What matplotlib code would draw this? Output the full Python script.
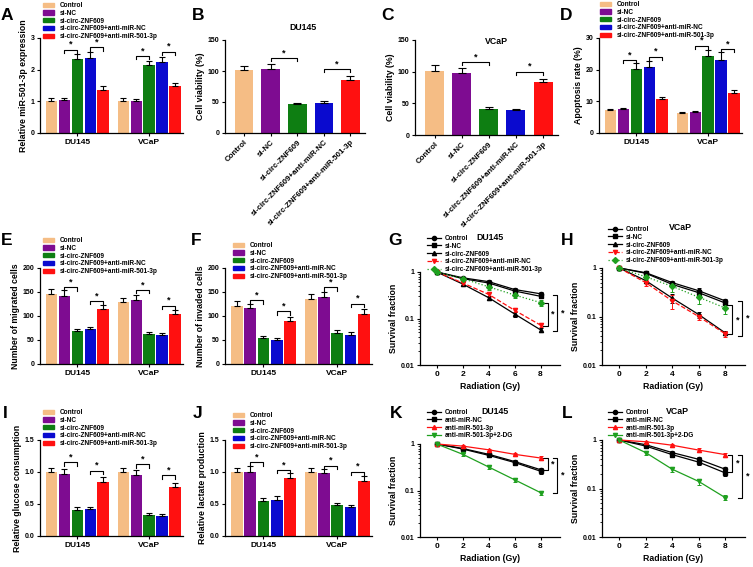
import matplotlib
matplotlib.use("Agg")
import matplotlib.pyplot as plt
from matplotlib.patches import Patch
from matplotlib.lines import Line2D

plt.rcParams["font.family"] = ["Liberation Sans", "DejaVu Sans"]
plt.rcParams["font.weight"] = "bold"
plt.rcParams["axes.labelweight"] = "bold"

W, H = 753, 567

groups = ["Control", "si-NC", "si-circ-ZNF609", "si-circ-ZNF609+anti-miR-NC", "si-circ-ZNF609+anti-miR-501-3p"]
bar_colors = ["#F5BD85", "#7E0C91", "#0E7E12", "#0A0ACF", "#FF1010"]
cells = ["DU145", "VCaP"]

# A: relative miR-501-3p expression
mir_du = [1.02, 1.04, 2.33, 2.38, 1.37]
mir_du_err = [0.07, 0.08, 0.17, 0.17, 0.10]
mir_vc = [1.02, 1.01, 2.14, 2.23, 1.48]
mir_vc_err = [0.08, 0.07, 0.13, 0.17, 0.10]

# B, C: cell viability
via_du = [101, 103, 46, 48, 86]
via_du_err = [7, 8, 3, 4, 6]
via_vc = [101, 98, 41, 39, 83]
via_vc_err = [9, 7, 3, 2, 6]

# D: apoptosis rate
apo_du = [7.2, 7.5, 20.1, 20.8, 10.6]
apo_du_err = [0.4, 0.4, 1.9, 1.8, 0.8]
apo_vc = [6.2, 6.7, 24.2, 23.2, 12.5]
apo_vc_err = [0.3, 0.4, 1.9, 2.3, 1.0]

# E: migrated cells
mig_du = [146, 142, 69, 72, 114]
mig_du_err = [10, 12, 4, 5, 8]
mig_vc = [130, 134, 63, 61, 105]
mig_vc_err = [8, 10, 4, 4, 8]

# F: invaded cells
inv_du = [121, 116, 54, 51, 90]
inv_du_err = [10, 9, 4, 4, 7]
inv_vc = [136, 139, 65, 61, 105]
inv_vc_err = [10, 11, 5, 5, 9]

# I: glucose consumption
glu_du = [1.00, 0.97, 0.40, 0.42, 0.85]
glu_du_err = [0.06, 0.08, 0.05, 0.04, 0.07]
glu_vc = [1.00, 0.95, 0.33, 0.31, 0.77]
glu_vc_err = [0.07, 0.08, 0.03, 0.03, 0.06]

# J: lactate production
lac_du = [1.00, 1.00, 0.55, 0.57, 0.90]
lac_du_err = [0.06, 0.10, 0.05, 0.05, 0.08]
lac_vc = [1.00, 0.98, 0.48, 0.45, 0.86]
lac_vc_err = [0.06, 0.07, 0.04, 0.03, 0.07]

# survival curves
dose = [0, 2, 4, 6, 8]

g_ctrl = [1.0, 0.75, 0.62, 0.42, 0.34]
g_sinc = [1.0, 0.72, 0.58, 0.39, 0.30]
g_circ = [1.0, 0.55, 0.28, 0.125, 0.057]
g_amnc = [1.0, 0.58, 0.33, 0.15, 0.072]
g_a501 = [1.0, 0.72, 0.48, 0.32, 0.22]
g_ctrl_err = [0.03, 0.05, 0.05, 0.04, 0.03]
g_sinc_err = [0.03, 0.05, 0.05, 0.04, 0.03]
g_circ_err = [0.03, 0.05, 0.03, 0.015, 0.005]
g_amnc_err = [0.03, 0.05, 0.04, 0.015, 0.007]
g_a501_err = [0.03, 0.06, 0.06, 0.05, 0.03]

h_ctrl = [1.0, 0.80, 0.50, 0.34, 0.21]
h_sinc = [1.0, 0.78, 0.46, 0.31, 0.19]
h_circ = [1.0, 0.55, 0.24, 0.11, 0.046]
h_amnc = [1.0, 0.50, 0.21, 0.10, 0.044]
h_a501 = [1.0, 0.66, 0.42, 0.25, 0.15]
h_ctrl_err = [0.03, 0.05, 0.05, 0.04, 0.02]
h_sinc_err = [0.03, 0.05, 0.05, 0.04, 0.02]
h_circ_err = [0.03, 0.06, 0.05, 0.015, 0.005]
h_amnc_err = [0.03, 0.07, 0.07, 0.015, 0.006]
h_a501_err = [0.03, 0.08, 0.10, 0.07, 0.04]

k_names = ["Control", "anti-miR-NC", "anti-miR-501-3p", "anti-miR-501-3p+2-DG"]
k_ctrl = [1.0, 0.80, 0.60, 0.42, 0.28]
k_amnc = [1.0, 0.78, 0.57, 0.40, 0.26]
k_a501 = [1.0, 0.90, 0.75, 0.60, 0.50]
k_2dg = [1.0, 0.60, 0.32, 0.17, 0.09]
k_ctrl_err = [0.03, 0.05, 0.05, 0.04, 0.03]
k_amnc_err = [0.03, 0.05, 0.05, 0.04, 0.03]
k_a501_err = [0.03, 0.05, 0.05, 0.05, 0.05]
k_2dg_err = [0.03, 0.05, 0.03, 0.02, 0.01]

l_ctrl = [1.0, 0.80, 0.55, 0.40, 0.25]
l_amnc = [1.0, 0.75, 0.50, 0.35, 0.21]
l_a501 = [1.0, 0.92, 0.78, 0.62, 0.50]
l_2dg = [1.0, 0.55, 0.25, 0.14, 0.065]
l_ctrl_err = [0.03, 0.05, 0.05, 0.04, 0.03]
l_amnc_err = [0.03, 0.05, 0.05, 0.04, 0.03]
l_a501_err = [0.03, 0.05, 0.05, 0.05, 0.05]
l_2dg_err = [0.03, 0.05, 0.03, 0.02, 0.008]

fig = plt.figure(figsize=(W / 100, H / 100), dpi=100)


def px_axes(l, t, r, b):
    return fig.add_axes([l / W, 1 - b / H, (r - l) / W, (b - t) / H])


def style(ax):
    for s in ["top", "right"]:
        ax.spines[s].set_visible(False)
    for s in ["left", "bottom"]:
        ax.spines[s].set_linewidth(0.9)
    ax.tick_params(width=0.8, length=2.5, labelsize=5, pad=1.5)


def letter(x, y, s):
    fig.text(x / W, 1 - y / H, s, fontsize=12.5, fontweight="bold", ha="center", va="center")


def bar_legend(ax, x, y):
    handles = [Patch(color=c) for c in bar_colors]
    ax.legend(handles, groups, loc="upper left", bbox_to_anchor=(x / W, 1 - y / H),
              bbox_transform=fig.transFigure, frameon=False, fontsize=4.7,
              handlelength=1.7, handleheight=0.65, handletextpad=0.8,
              labelspacing=0.12, borderpad=0, borderaxespad=0)


def bracket(ax, x1, x2, y, drop, star=True):
    ax.plot([x1, x1, x2, x2], [y - drop, y, y, y - drop], color="black", lw=0.8, clip_on=False)
    if star:
        ax.text((x1 + x2) / 2, y + drop * 0.3, "*", ha="center", va="bottom", fontsize=6.5)


def grouped(ax, du, du_err, vc, vc_err, ymax, yticks, ylabel, brk):
    step, width = 0.18, 0.16
    for gi, (vals, errs) in enumerate([(du, du_err), (vc, vc_err)]):
        xs = [gi + (i - 2) * step for i in range(5)]
        ax.bar(xs, vals, width=width, color=bar_colors)
        ax.errorbar(xs, vals, yerr=[[0] * 5, errs], fmt="none", ecolor="black",
                    elinewidth=0.8, capsize=2, capthick=0.8)
    drop = ymax * 0.035
    for gi, i, j, y in brk:
        bracket(ax, gi + (i - 2) * step, gi + (j - 2) * step, y, drop)
    ax.set_xlim(-0.52, 1.47)
    ax.set_ylim(0, ymax)
    ax.set_yticks(yticks)
    ax.set_xticks([0, 1])
    ax.set_xticklabels(cells)
    ax.set_ylabel(ylabel, fontsize=6.3, labelpad=2)
    style(ax)
    ax.tick_params(axis="x", labelsize=6)


def single(ax, vals, errs, title, ty, brk):
    xs = list(range(5))
    ax.bar(xs, vals, width=0.7, color=bar_colors)
    ax.errorbar(xs, vals, yerr=[[0] * 5, errs], fmt="none", ecolor="black",
                elinewidth=0.8, capsize=3, capthick=0.8)
    for i, j, y in brk:
        bracket(ax, i, j, y, 5)
    ax.set_xlim(-0.72, 4.55)
    ax.set_ylim(0, 150)
    ax.set_yticks([0, 50, 100, 150])
    ax.set_xticks(xs)
    ax.set_xticklabels(groups, rotation=45, ha="right", rotation_mode="anchor", fontsize=5.7)
    ax.set_ylabel("Cell viability (%)", fontsize=6.3, labelpad=2)
    style(ax)
    ax.tick_params(axis="x", labelsize=5.7)
    fig.text(ty[0] / W, 1 - ty[1] / H, title, ha="center", va="center", fontsize=6.3)


def survival(ax, series, errs, fmts, colors, names, title, txy, lxy, brk):
    for vals, err, (mk, ls), c in zip(series, errs, fmts, colors):
        ax.errorbar(dose, vals, yerr=err, color=c, marker=mk, ls=ls, lw=0.9, ms=3,
                    elinewidth=0.7, capsize=1.5, capthick=0.7, clip_on=False)
    ax.set_yscale("log")
    ax.set_ylim(0.01, 1)
    ax.set_xlim(-1.3, 9.5)
    ax.set_yticks([0.01, 0.1, 1])
    ax.set_yticklabels(["0.01", "0.1", "1"])
    ax.set_xticks(dose)
    ax.set_ylabel("Survival fraction", fontsize=6.3, labelpad=2)
    ax.set_xlabel("Radiation (Gy)", fontsize=6.3, labelpad=3)
    style(ax)
    ax.tick_params(axis="x", labelsize=6)
    ax.tick_params(axis="y", which="minor", width=0.6, length=1.5)
    fig.text(txy[0] / W, 1 - txy[1] / H, title, ha="center", va="center", fontsize=6.3)
    handles = [Line2D([], [], color=c, marker=mk, ls=ls, lw=0.9, ms=3)
               for (mk, ls), c in zip(fmts, colors)]
    ax.legend(handles, names, loc="upper left", bbox_to_anchor=(lxy[0] / W, 1 - lxy[1] / H),
              bbox_transform=fig.transFigure, frameon=False, fontsize=4.7,
              handlelength=2.2, handletextpad=0.5, labelspacing=0.12,
              borderpad=0, borderaxespad=0)
    for x, y1, y2, sx in brk:
        ax.plot([x - 0.35, x, x, x - 0.35], [y1, y1, y2, y2], color="black", lw=0.8, clip_on=False)
        ax.text(sx, (y1 * y2) ** 0.5, "*", ha="center", va="center", fontsize=6.5, clip_on=False)


five_fmt = [("o", "-"), ("s", "-"), ("^", "-"), ("v", "--"), ("D", ":")]
five_col = ["black", "black", "black", "#FF1010", "#1FA01F"]
four_fmt = [("o", "-"), ("s", "-"), ("^", "-"), ("v", "-")]
four_col = ["black", "black", "#FF1010", "#1FA01F"]

# row 1
ax = px_axes(40, 38, 183, 133)
grouped(ax, mir_du, mir_du_err, mir_vc, mir_vc_err, 3, [0, 1, 2, 3],
        "Relative miR-501-3p expression", [(0, 1, 2, 2.62), (0, 3, 4, 2.7), (1, 1, 2, 2.43), (1, 3, 4, 2.56)])
bar_legend(ax, 43, 2)
letter(7, 15, "A")

ax = px_axes(225, 40, 365, 133)
single(ax, via_du, via_du_err, "DU145", (303, 27), [(1, 2, 121), (3, 4, 103)])
letter(198, 16, "B")

ax = px_axes(415, 40, 558, 135)
single(ax, via_vc, via_vc_err, "VCaP", (496, 42), [(1, 2, 115), (3, 4, 100)])
letter(387, 16, "C")

ax = px_axes(599, 38, 742, 133)
grouped(ax, apo_du, apo_du_err, apo_vc, apo_vc_err, 30, [0, 10, 20, 30],
        "Apoptosis rate (%)", [(0, 1, 2, 23), (0, 3, 4, 24), (1, 1, 2, 27.5), (1, 3, 4, 26.5)])
bar_legend(ax, 600, 1)
letter(566, 15, "D")

# row 2
ax = px_axes(40, 268, 183, 364)
grouped(ax, mig_du, mig_du_err, mig_vc, mig_vc_err, 200, [0, 50, 100, 150, 200],
        "Number of migrated cells", [(0, 1, 2, 160), (0, 3, 4, 131), (1, 1, 2, 154), (1, 3, 4, 121)])
bar_legend(ax, 43, 237)
letter(7, 241, "E")

ax = px_axes(225, 268, 372, 364)
grouped(ax, inv_du, inv_du_err, inv_vc, inv_vc_err, 200, [0, 50, 100, 150, 200],
        "Number of invaded cells", [(0, 1, 2, 133), (0, 3, 4, 110), (1, 1, 2, 160), (1, 3, 4, 125)])
bar_legend(ax, 233, 242)
letter(196, 241, "F")

ax = px_axes(420, 272, 560, 365)
survival(ax, [g_ctrl, g_sinc, g_circ, g_amnc, g_a501],
         [g_ctrl_err, g_sinc_err, g_circ_err, g_amnc_err, g_a501_err],
         five_fmt, five_col, groups, "DU145", (490, 238), (427, 235),
         [(8.55, 0.22, 0.068, 8.95), (9.3, 0.32, 0.055, 9.7)])
letter(395, 241, "G")

ax = px_axes(602, 268, 745, 365)
survival(ax, [h_ctrl, h_sinc, h_circ, h_amnc, h_a501],
         [h_ctrl_err, h_sinc_err, h_circ_err, h_amnc_err, h_a501_err],
         five_fmt, five_col, groups, "VCaP", (680, 227), (608, 226),
         [(8.55, 0.17, 0.043, 8.95), (9.3, 0.21, 0.04, 9.7)])
letter(567, 241, "H")

# row 3
ax = px_axes(40, 440, 183, 536)
grouped(ax, glu_du, glu_du_err, glu_vc, glu_vc_err, 1.5, [0, 0.5, 1.0, 1.5],
        "Relative glucose consumption", [(0, 1, 2, 1.15), (0, 3, 4, 1.02), (1, 1, 2, 1.12), (1, 3, 4, 0.95)])
ax.set_yticklabels(["0.0", "0.5", "1.0", "1.5"])
bar_legend(ax, 43, 409)
letter(5, 413, "I")

ax = px_axes(225, 440, 372, 536)
grouped(ax, lac_du, lac_du_err, lac_vc, lac_vc_err, 1.5, [0, 0.5, 1.0, 1.5],
        "Relative lactate production", [(0, 1, 2, 1.15), (0, 3, 4, 1.03), (1, 1, 2, 1.1), (1, 3, 4, 1.0)])
ax.set_yticklabels(["0.0", "0.5", "1.0", "1.5"])
bar_legend(ax, 233, 412)
letter(198, 413, "J")

ax = px_axes(420, 444, 560, 537)
survival(ax, [k_ctrl, k_amnc, k_a501, k_2dg],
         [k_ctrl_err, k_amnc_err, k_a501_err, k_2dg_err],
         four_fmt, four_col, k_names, "DU145", (495, 411), (427, 409),
         [(8.55, 0.5, 0.27, 8.95), (9.3, 0.5, 0.09, 9.7)])
letter(396, 414, "K")

ax = px_axes(602, 440, 745, 537)
survival(ax, [l_ctrl, l_amnc, l_a501, l_2dg],
         [l_ctrl_err, l_amnc_err, l_a501_err, l_2dg_err],
         four_fmt, four_col, k_names, "VCaP", (677, 411), (608, 409),
         [(8.55, 0.5, 0.22, 8.95), (9.3, 0.5, 0.065, 9.7)])
letter(567, 414, "L")

fig.savefig("out.png", dpi=100)
